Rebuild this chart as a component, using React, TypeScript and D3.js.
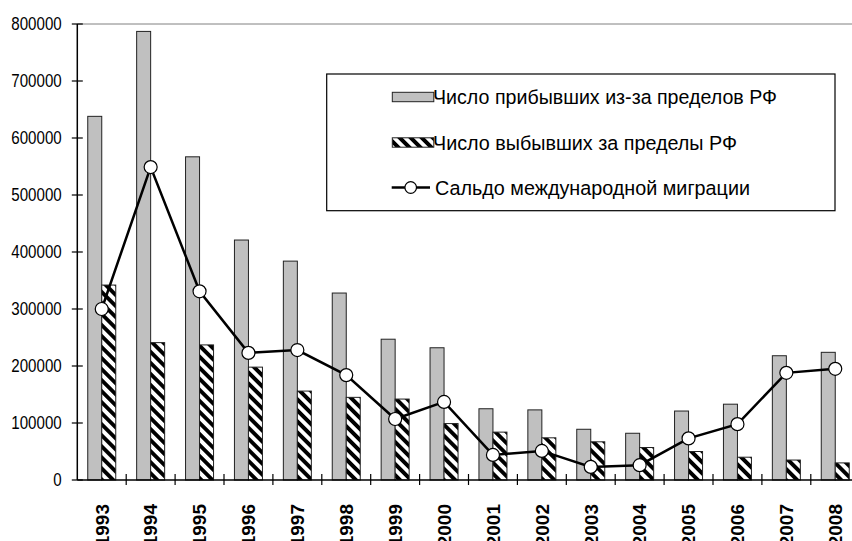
import React from "react";
import * as d3 from "d3";

const years = ["1993","1994","1995","1996","1997","1998","1999","2000","2001","2002","2003","2004","2005","2006","2007","2008"];
const arrivals = [638000,787000,567000,421000,384000,328000,247000,232000,125000,123000,89000,82000,121000,133000,218000,224000];
const departures = [342000,241000,237000,198000,156000,145000,142000,99000,84000,74000,67000,57000,50000,40000,35000,30000];
const saldo = [300000,549000,331000,223000,228000,184000,107000,137000,44000,51000,23000,26000,73000,98000,188000,195000];
const yTicks = [0,100000,200000,300000,400000,500000,600000,700000,800000];
const legendLabels = ["Число прибывших из-за пределов РФ","Число выбывших за пределы РФ","Сальдо международной миграции"];

const W = 852, H = 541;
const X0 = 77.3, BAND = 48.9;

export default function App() {
  const x = d3.scaleBand<string>().domain(years).range([X0, X0 + BAND * years.length]).padding(0);
  const y = d3.scaleLinear().domain([0, 800000]).range([480, 24]);
  const bw = 14;
  const cx = (yr: string) => (x(yr) as number) + x.bandwidth() / 2;
  const line = d3.line<number>().x((_, i) => cx(years[i])).y((d) => y(d));
  const font = "'Liberation Sans', Arial, sans-serif";
  const lx = 326.7, ly = 74;
  const rowY = [97, 142.5, 187.5];
  const legendX = [433, 433, 435];
  const legendLen = [344, 304, 315];
  return (
    <svg width={W} height={H} style={{ position: "absolute", left: 0, top: 0, background: "#fff" }}>
      <defs>
        <pattern id="hatch" patternUnits="userSpaceOnUse" width="7.8" height="7.8" patternTransform="rotate(45)">
          <rect x="0" y="0" width="7.8" height="7.8" fill="#fff" />
          <rect x="0" y="0" width="7.8" height="3.9" fill="#000" />
        </pattern>
      </defs>
      <rect x={0} y={0} width={W} height={H} fill="#fff" />
      <line x1={X0} x2={W} y1={y(800000)} y2={y(800000)} stroke="#808080" strokeWidth={1} />
      {years.map((yr, i) => (
        <g key={yr}>
          <rect x={cx(yr) - bw} y={y(arrivals[i])} width={bw} height={y(0) - y(arrivals[i])} fill="#c0c0c0" stroke="#222" strokeWidth={1} />
          <rect x={cx(yr)} y={y(departures[i])} width={bw} height={y(0) - y(departures[i])} fill="url(#hatch)" stroke="#222" strokeWidth={1} />
        </g>
      ))}
      <line x1={X0} x2={X0} y1={y(800000)} y2={y(0)} stroke="#000" strokeWidth={1.5} />
      <line x1={X0} x2={W} y1={y(0)} y2={y(0)} stroke="#000" strokeWidth={1.5} />
      {yTicks.map((t) => (
        <g key={t}>
          <line x1={X0 - 5.5} x2={X0 + 5.5} y1={y(t)} y2={y(t)} stroke="#000" strokeWidth={1.2} />
          <text transform={`translate(61.7,${y(t)}) scale(0.84,1)`} dy="0.36em" textAnchor="end" fontFamily={font} fontSize={18}>{t}</text>
        </g>
      ))}
      {years.map((yr, i) => (
        <g key={"t" + yr}>
          {i > 0 && <line x1={x(yr) as number} x2={x(yr) as number} y1={y(0) - 6} y2={y(0) + 5} stroke="#000" strokeWidth={1.2} />}
          <text transform={`translate(${cx(yr)},504) rotate(-90)`} dy="0.36em" textAnchor="end"
            fontFamily={font} fontWeight="bold" fontSize={19}>{yr}</text>
        </g>
      ))}
      <path d={line(saldo) || ""} fill="none" stroke="#000" strokeWidth={2.5} />
      {saldo.map((v, i) => (
        <circle key={"c" + i} cx={cx(years[i])} cy={y(v)} r={6.5} fill="#fff" stroke="#000" strokeWidth={1.2} />
      ))}
      <rect x={lx} y={ly} width={508.3} height={136.7} fill="#fff" stroke="#000" strokeWidth={1.2} />
      <rect x={392.3} y={rowY[0] - 4.7} width={41.5} height={9.4} fill="#c0c0c0" stroke="#222" strokeWidth={1} />
      <rect x={392.3} y={rowY[1] - 4.7} width={41.5} height={9.4} fill="url(#hatch)" stroke="#222" strokeWidth={1} />
      <line x1={391.7} x2={430} y1={rowY[2]} y2={rowY[2]} stroke="#000" strokeWidth={2.5} />
      <circle cx={410.7} cy={rowY[2]} r={5.8} fill="#fff" stroke="#000" strokeWidth={1.2} />
      {legendLabels.map((l, i) => (
        <text key={l} x={legendX[i]} y={rowY[i]} dy="0.36em" fontFamily={font} fontSize={20.5}
          textLength={legendLen[i]} lengthAdjust="spacingAndGlyphs">{l}</text>
      ))}
    </svg>
  );
}
